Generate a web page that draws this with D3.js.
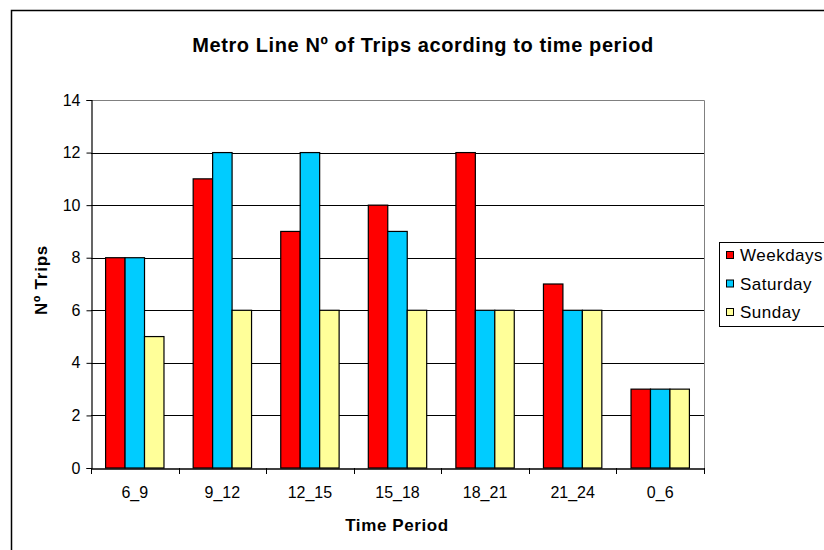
<!DOCTYPE html>
<html>
<head>
<meta charset="utf-8">
<script src="https://cdn.jsdelivr.net/npm/d3@7"></script>
<style>
  body { margin: 0; background: #fff; }
  svg { display: block; font-family: "Liberation Sans", Arial, sans-serif; }
</style>
</head>
<body>
<svg id="chart" width="824" height="550"></svg>
<script>
const periods = ["6_9", "9_12", "12_15", "15_18", "18_21", "21_24", "0_6"];
const seriesNames = ["Weekdays", "Saturday", "Sunday"];
const weekdays = [8, 11, 9, 10, 12, 7, 3];
const saturday = [8, 12, 12, 9, 6, 6, 3];
const sunday = [5, 6, 6, 6, 6, 6, 3];
const yTicks = [0, 2, 4, 6, 8, 10, 12, 14];

const colors = ["#ff0000", "#00ccff", "#ffff99"];
const values = [weekdays, saturday, sunday];
const FONT = "Liberation Sans, Arial, sans-serif";

const svg = d3.select("#chart");

// outer chart border
svg.append("rect")
    .attr("x", 11.5).attr("y", 10.5)
    .attr("width", 830).attr("height", 560)
    .attr("fill", "none")
    .attr("stroke", "#000")
    .attr("stroke-width", 1.5);

const plot = { left: 91, top: 100, right: 704, bottom: 468 };

const x = d3.scaleBand()
    .domain(periods)
    .range([plot.left, plot.right]);

const y = d3.scaleLinear()
    .domain([0, 14])
    .range([plot.bottom, plot.top]);

// gap width ~150%
const barW = x.bandwidth() / 4.5;
const x1 = d3.scaleBand()
    .domain(seriesNames)
    .range([barW * 0.75, barW * 3.75]);

// grid
svg.append("g")
    .selectAll("line")
    .data(yTicks.filter(d => d > 0 && d < 14))
    .enter()
    .append("line")
    .attr("x1", plot.left).attr("x2", plot.right)
    .attr("y1", d => Math.round(y(d)) + 0.5)
    .attr("y2", d => Math.round(y(d)) + 0.5)
    .attr("stroke", "#000");

// plot area border (grey top/right)
svg.append("path")
    .attr("d", `M${plot.left},${plot.top + 0.5}H${plot.right + 0.5}V${plot.bottom}`)
    .attr("fill", "none")
    .attr("stroke", "#808080");

// bars
const rows = [];
periods.forEach((p, i) => {
    seriesNames.forEach((s, j) => {
        rows.push({ period: p, series: s, value: values[j][i], color: colors[j] });
    });
});

svg.append("g")
    .selectAll("rect")
    .data(rows)
    .enter()
    .append("rect")
    .attr("x", d => x(d.period) + x1(d.series))
    .attr("y", d => y(d.value))
    .attr("width", x1.bandwidth())
    .attr("height", d => y(0) - y(d.value))
    .attr("fill", d => d.color)
    .attr("stroke", "#000")
    .attr("stroke-width", 1.2);

// Axis Y
const yAxis = svg.append("g")
    .attr("transform", `translate(${plot.left + 0.5},0)`)
    .call(d3.axisLeft(y).tickValues(yTicks).tickSize(5).tickPadding(6));
yAxis.select(".domain").attr("stroke", "#000").attr("stroke-width", 1.2);
yAxis.selectAll(".tick line").attr("stroke", "#000");
yAxis.selectAll("text")
    .attr("font-size", 16)
    .attr("font-family", FONT)
    .attr("fill", "#000");

// Axis X
const xAxis = svg.append("g")
    .attr("transform", `translate(0,${plot.bottom + 0.5})`)
    .call(d3.axisBottom(x).tickSize(0));
xAxis.select(".domain").attr("stroke", "#000").attr("stroke-width", 1.5);
xAxis.selectAll("text")
    .attr("dy", null)
    .attr("y", 29)
    .attr("font-size", 16)
    .attr("font-family", FONT)
    .attr("fill", "#000");

// x ticks at category boundaries
svg.append("g")
    .selectAll("line")
    .data(periods.concat(["end"]))
    .enter()
    .append("line")
    .attr("x1", (d, i) => Math.round(plot.left + i * x.step()) + 0.5)
    .attr("x2", (d, i) => Math.round(plot.left + i * x.step()) + 0.5)
    .attr("y1", plot.bottom)
    .attr("y2", plot.bottom + 6)
    .attr("stroke", "#000");

// Title
svg.append("text")
    .attr("x", 423)
    .attr("y", 52)
    .attr("text-anchor", "middle")
    .attr("font-size", 20)
    .attr("font-weight", "bold")
    .attr("letter-spacing", 0.6)
    .text("Metro Line Nº of Trips acording to time period");

// Label X
svg.append("text")
    .attr("x", 397)
    .attr("y", 531)
    .attr("text-anchor", "middle")
    .attr("font-size", 17)
    .attr("font-weight", "bold")
    .attr("letter-spacing", 0.6)
    .text("Time Period");

// Label Y
svg.append("text")
    .attr("transform", "rotate(-90)")
    .attr("x", -280)
    .attr("y", 47)
    .attr("text-anchor", "middle")
    .attr("font-size", 17)
    .attr("font-weight", "bold")
    .attr("letter-spacing", 0.8)
    .text("Nº Trips");

// Legend
const legend = svg.append("g");
legend.append("rect")
    .attr("x", 719.5).attr("y", 242.5)
    .attr("width", 120).attr("height", 84)
    .attr("fill", "#fff")
    .attr("stroke", "#000");

const items = legend.selectAll("g.item")
    .data(seriesNames)
    .enter()
    .append("g")
    .attr("transform", (d, i) => `translate(726,${255 + i * 28.5})`);

items.append("rect")
    .attr("x", 0.5).attr("y", -3.5)
    .attr("width", 7).attr("height", 7)
    .attr("fill", (d, i) => colors[i])
    .attr("stroke", "#000");

items.append("text")
    .attr("x", 14)
    .attr("y", 6)
    .attr("font-size", 17)
    .attr("letter-spacing", 0.5)
    .text(d => d);
</script>
</body>
</html>
